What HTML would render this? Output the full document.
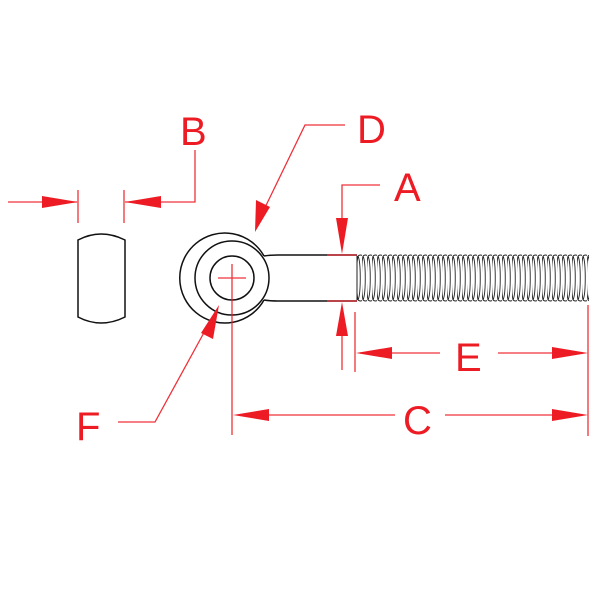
<!DOCTYPE html>
<html><head><style>body{margin:0;background:#fff}svg{display:block}text{font-family:"Liberation Sans",sans-serif;font-size:40px;fill:#ed1c24}</style></head>
<body>
<svg width="600" height="600" viewBox="0 0 600 600">
<defs>
<pattern id="th" x="357" y="0" width="5" height="600" patternUnits="userSpaceOnUse">
<path d="M1,256 C-1,266 -1,290 1,300 M1,256 C4,262 4,294 1,300 M1,256 Q3.5,254 6,256 M1,300 Q3.5,302 6,300" fill="none" stroke="#222" stroke-width="0.9"/>
</pattern>
</defs>
<g fill="none" stroke="#111" stroke-width="1.5">
<path d="M78,240 Q101,228 125,240 L125,317 Q101,329 78,317 Z"/>
<circle cx="232" cy="278" r="22"/>
<circle cx="232" cy="278" r="37"/>
<path d="M 264,256 A 45 45 0 1 0 264,300"/>
<path d="M 264,256 Q 270,255 278,255 L357,255 M 264,300 Q 270,301 278,301 L357,301"/>
</g>
<rect x="356" y="254" width="233" height="48" fill="url(#th)"/>
<line x1="357" y1="256" x2="357" y2="300" stroke="#222" stroke-width="1"/>
<g stroke="#ed1c24" stroke-width="1.3" fill="none" opacity="0.9">
<line x1="218" y1="278" x2="246" y2="278"/>
<line x1="232" y1="264" x2="232" y2="435"/>
<polyline points="8,202 77,202"/>
<line x1="78" y1="190" x2="78" y2="223"/><line x1="124" y1="190" x2="124" y2="223"/>
<polyline points="125,202 195,202 195,150"/>
<polyline points="345,125 305,125 258,222"/>
<polyline points="380,185 342,185 342,245"/>
<line x1="327" y1="255" x2="357" y2="255"/><line x1="327" y1="301" x2="357" y2="301"/>
<line x1="342" y1="312" x2="342" y2="370"/>
<line x1="355" y1="312" x2="355" y2="372"/>
<line x1="588" y1="305" x2="588" y2="436"/>
<line x1="360" y1="353" x2="440" y2="353"/><line x1="498" y1="353" x2="580" y2="353"/>
<line x1="240" y1="415" x2="395" y2="415"/><line x1="445" y1="415" x2="580" y2="415"/>
<polyline points="118,422 155,422 212,318"/>
</g>
<g fill="#ed1c24">
<polygon points="78,202 42,196 42,208"/>
<polygon points="125,202 161,196 161,208"/>
<polygon points="255,232 256,200 270,207"/>
<polygon points="342,254 336,218 348,218"/>
<polygon points="342,302 336,336 348,336"/>
<polygon points="356,353 392,347 392,359"/>
<polygon points="588,353 552,347 552,359"/>
<polygon points="233,415 269,409 269,421"/>
<polygon points="588,415 552,409 552,421"/>
<polygon points="219,305 201,333 213,339"/>
</g>
<text x="180" y="145">B</text>
<text x="357" y="143">D</text>
<text x="394" y="201">A</text>
<text x="455" y="371">E</text>
<text x="403" y="434">C</text>
<text x="76" y="440">F</text>
</svg>
</body></html>
